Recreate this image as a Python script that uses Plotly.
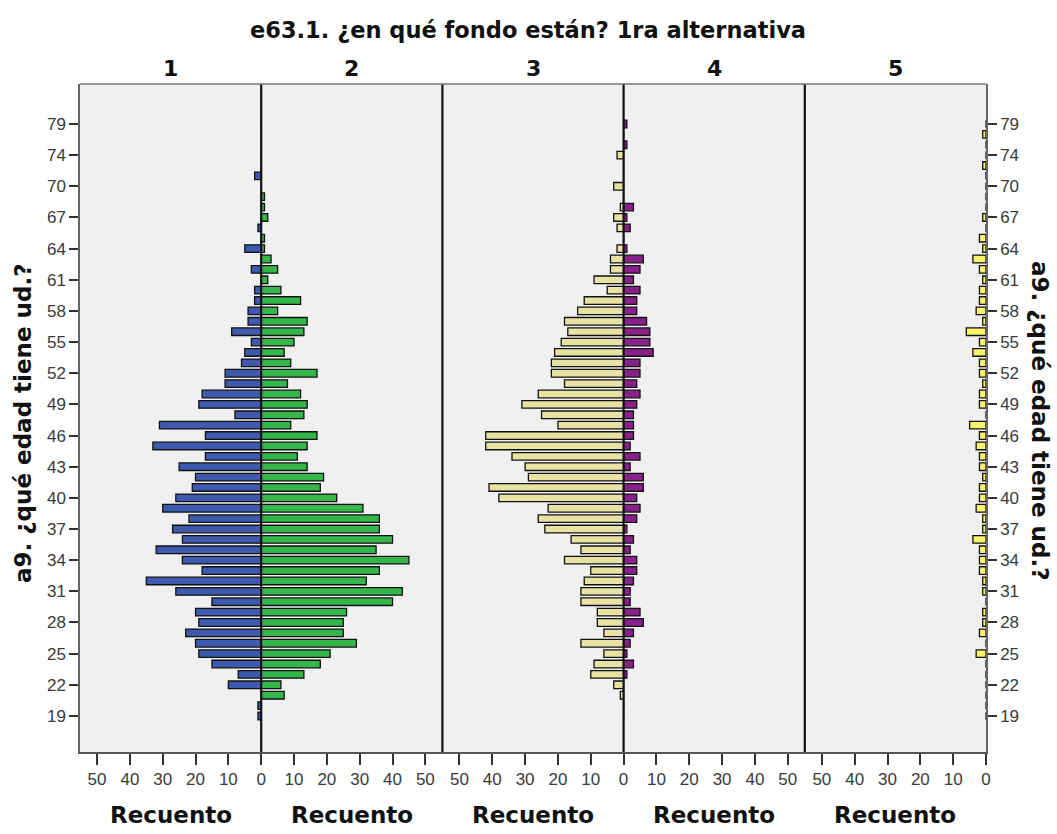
import plotly.graph_objects as go

# ---- data -------------------------------------------------------------
ages = [19, 20, 21, 22, 23, 24, 25, 26, 27, 28, 29, 30, 31, 32, 33, 34, 35, 36,
        37, 38, 39, 40, 41, 42, 43, 44, 45, 46, 47, 48, 49, 50, 51, 52, 53, 54,
        55, 56, 57, 58, 59, 60, 61, 62, 63, 64, 65, 66, 67, 68, 69, 70, 71, 72,
        74, 76, 77, 79]
age_labels = [str(a) for a in ages]
tick_ages = ["19", "22", "25", "28", "31", "34", "37", "40", "43", "46", "49",
             "52", "55", "58", "61", "64", "67", "70", "74", "79"]

fondo_labels = ["1", "2", "3", "4", "5"]

fondo1 = [1, 1, 0, 10, 7, 15, 19, 20, 23, 19, 20, 15, 26, 35, 18, 24, 32, 24,
          27, 22, 30, 26, 21, 20, 25, 17, 33, 17, 31, 8, 19, 18, 11, 11, 6, 5,
          3, 9, 4, 4, 2, 2, 0, 3, 0, 5, 0, 1, 0, 0, 0, 0, 2, 0,
          0, 0, 0, 0]
fondo2 = [0, 0, 7, 6, 13, 18, 21, 29, 25, 25, 26, 40, 43, 32, 36, 45, 35, 40,
          36, 36, 31, 23, 18, 19, 14, 11, 14, 17, 9, 13, 14, 12, 8, 17, 9, 7,
          10, 13, 14, 5, 12, 6, 2, 5, 3, 1, 1, 0, 2, 1, 1, 0, 0, 0,
          0, 0, 0, 0]
fondo3 = [0, 0, 1, 3, 10, 9, 6, 13, 6, 8, 8, 13, 13, 12, 10, 18, 13, 16,
          24, 26, 23, 38, 41, 29, 30, 34, 42, 42, 20, 25, 31, 26, 18, 22, 22, 21,
          19, 17, 18, 14, 12, 5, 9, 4, 4, 2, 0, 2, 3, 1, 0, 3, 0, 0,
          2, 0, 0, 0]
fondo4 = [0, 0, 0, 0, 1, 3, 1, 2, 3, 6, 5, 2, 2, 3, 4, 4, 2, 3,
          1, 4, 5, 4, 6, 6, 2, 5, 2, 3, 3, 3, 4, 5, 4, 5, 5, 9,
          8, 8, 7, 4, 4, 5, 3, 5, 6, 1, 0, 2, 1, 3, 0, 0, 0, 0,
          0, 1, 0, 1]
fondo5 = [0, 0, 0, 0, 0, 0, 3, 0, 2, 1, 1, 0, 1, 1, 2, 2, 2, 4,
          1, 1, 3, 2, 2, 1, 2, 2, 3, 2, 5, 0, 2, 2, 1, 2, 2, 4,
          2, 6, 1, 3, 2, 2, 1, 2, 4, 1, 2, 0, 1, 0, 0, 0, 0, 1,
          0, 0, 1, 0]

series = [fondo1, fondo2, fondo3, fondo4, fondo5]
colors = ["#3D5AAE", "#35B64A", "#E8E3A3", "#88218A", "#F8F36A"]
reversed_panel = [True, False, True, False, True]

x_ticks = [0, 10, 20, 30, 40, 50]
x_max = 55.2

title_text = "e63.1. ¿en qué fondo están? 1ra alternativa"
y_title = "a9. ¿qué edad tiene ud.?"
x_title = "Recuento"

# ---- figure -----------------------------------------------------------
fig = go.Figure()
TICKFONT = dict(family="Liberation Sans, Arial, sans-serif", size=17, color="#3a3a3a")
BOLD = "DejaVu Sans, Verdana, sans-serif"

n = len(series)
for k in range(n):
    xa = "x" if k == 0 else f"x{k+1}"
    ya = "y2" if k == n - 1 else "y"
    fig.add_trace(go.Bar(
        x=series[k], y=age_labels, orientation="h",
        marker=dict(color=colors[k], line=dict(color="#111111", width=1.3)),
        xaxis=xa, yaxis=ya, showlegend=False,
        hovertemplate="%{y}: %{x}<extra></extra>",
    ))

layout = dict(
    width=1057, height=834,
    margin=dict(l=80, r=71, t=84, b=82),
    paper_bgcolor="white",
    plot_bgcolor="#F0F0F0",
    bargap=0.27,
    showlegend=False,
)

for k in range(n):
    key = "xaxis" if k == 0 else f"xaxis{k+1}"
    ya = "y2" if k == n - 1 else "y"
    rng = [x_max, 0] if reversed_panel[k] else [0, x_max]
    tv = x_ticks if reversed_panel[k] else x_ticks[1:]
    layout[key] = dict(
        domain=[k / n, (k + 1) / n],
        anchor=ya,
        range=rng,
        tickvals=tv,
        ticktext=[str(v) for v in tv],
        ticks="outside", ticklen=11, tickwidth=1.5, tickcolor="#333333",
        tickfont=TICKFONT,
        showgrid=False, zeroline=False,
        showline=True, linecolor="#555555", linewidth=1.5,
        fixedrange=True,
    )

ycommon = dict(
    type="category",
    categoryorder="array", categoryarray=age_labels,
    range=[-3.47, 60.85],
    tickvals=tick_ages, ticktext=tick_ages,
    ticks="outside", ticklen=9, tickwidth=1.5, tickcolor="#333333",
    tickfont=TICKFONT,
    showgrid=False, zeroline=False,
    showline=True, linecolor="#666666", linewidth=1.5,
    domain=[0, 1],
)
layout["yaxis"] = dict(ycommon, anchor="x", side="left")
layout["yaxis2"] = dict(ycommon, anchor="x5", side="right")

fig.update_layout(**layout)

# panel separators and frame
for k in range(1, n):
    fig.add_shape(type="line", xref="paper", yref="paper",
                  x0=k / n, x1=k / n, y0=0, y1=1,
                  line=dict(color="#111111", width=2.2), layer="above")
fig.add_shape(type="line", xref="paper", yref="paper", x0=0, x1=1, y0=1, y1=1,
              line=dict(color="#777777", width=1.5), layer="above")

annotations = []
annotations.append(dict(text=title_text, xref="paper", yref="paper",
                        x=(528 - 80) / 906, y=1, xanchor="center", yanchor="middle",
                        yshift=54, showarrow=False,
                        font=dict(family=BOLD, size=22.5, color="#111111", weight="bold")))
for k in range(n):
    cx = (k + 0.5) / n
    annotations.append(dict(text=fondo_labels[k], xref="paper", yref="paper",
                            x=cx, y=1, xanchor="center", yanchor="middle", yshift=16,
                            showarrow=False,
                            font=dict(family=BOLD, size=22, color="#111111", weight="bold")))
    annotations.append(dict(text=x_title, xref="paper", yref="paper",
                            x=cx, y=0, xanchor="center", yanchor="middle", yshift=-63,
                            showarrow=False,
                            font=dict(family=BOLD, size=23, color="#111111", weight="bold")))
annotations.append(dict(text=y_title, xref="paper", yref="paper",
                        x=0, y=0.5, xanchor="center", yanchor="middle",
                        xshift=-57, yshift=-6, textangle=-90, showarrow=False,
                        font=dict(family=BOLD, size=23, color="#111111", weight="bold")))
annotations.append(dict(text=y_title, xref="paper", yref="paper",
                        x=1, y=0.5, xanchor="center", yanchor="middle",
                        xshift=54, yshift=-2, textangle=90, showarrow=False,
                        font=dict(family=BOLD, size=23, color="#111111", weight="bold")))
fig.update_layout(annotations=annotations)

fig.write_html("out.html",
               config={"displayModeBar": False},
               post_script="document.body.style.margin='0px';document.body.style.overflow='hidden';")
